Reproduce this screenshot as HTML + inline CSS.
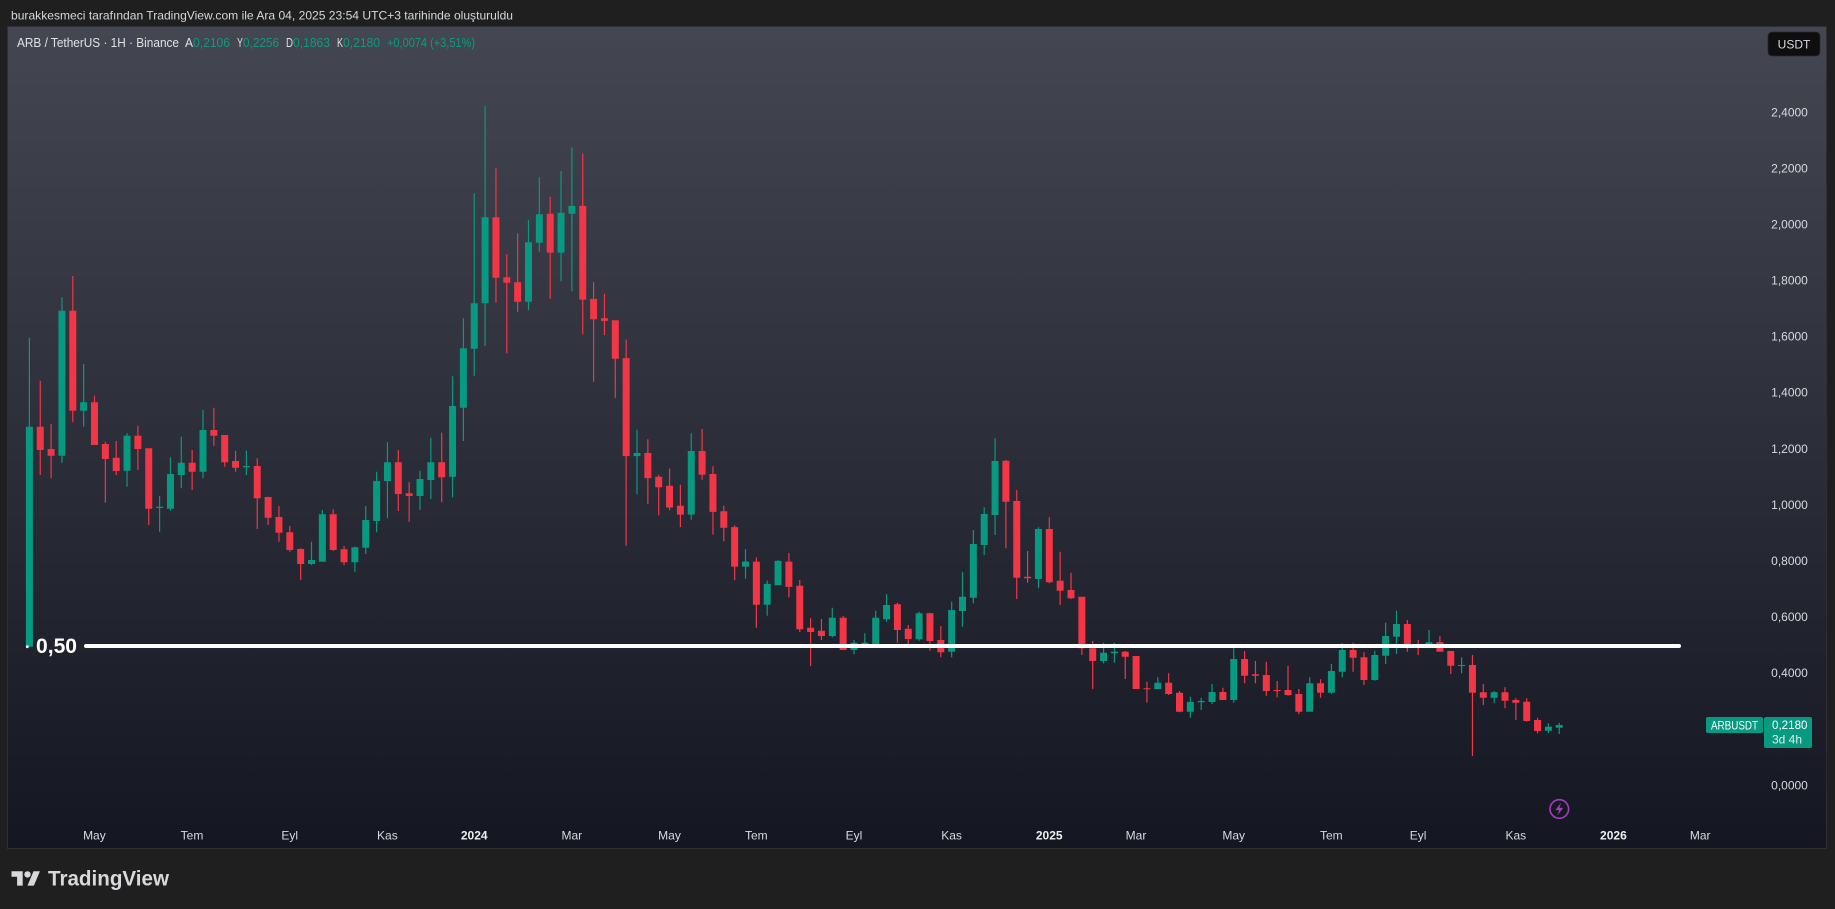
<!DOCTYPE html>
<html><head><meta charset="utf-8">
<style>
html,body{margin:0;padding:0;background:#1f1f1f;width:1835px;height:909px;overflow:hidden}
svg{display:block}
.g{fill:#089981}.r{fill:#f23645}
text{font-family:"Liberation Sans","DejaVu Sans",sans-serif}
.ax{font-size:12px;fill:#d8d9dd;text-anchor:middle}
.yr{font-size:12px;fill:#eeeeee;font-weight:bold;text-anchor:middle}
.pl{font-size:12px;fill:#d8d9dd;text-anchor:middle}
</style></head>
<body>
<svg width="1835" height="909" viewBox="0 0 1835 909" xmlns="http://www.w3.org/2000/svg">
<defs>
<linearGradient id="bg" x1="0" y1="27" x2="0" y2="848" gradientUnits="userSpaceOnUse">
<stop offset="0" stop-color="#444651"/>
<stop offset="1" stop-color="#141722"/>
</linearGradient>
</defs>
<rect x="0" y="0" width="1835" height="909" fill="#1f1f1f"/>
<rect x="7.5" y="26.5" width="1819" height="822" fill="none" stroke="#303030" stroke-width="1"/>
<rect x="8" y="27" width="1818" height="821" fill="url(#bg)"/>

<text x="11" y="19.3" font-size="12" fill="#d6d7db" textLength="502" lengthAdjust="spacingAndGlyphs">burakkesmeci tarafından TradingView.com ile Ara 04, 2025 23:54 UTC+3 tarihinde oluşturuldu</text>

<g font-size="13">
<text x="17" y="47" fill="#e0e1e5" textLength="162" lengthAdjust="spacingAndGlyphs">ARB / TetherUS · 1H · Binance</text>
<text x="185" y="47" fill="#e0e1e5" textLength="8" lengthAdjust="spacingAndGlyphs">A</text>
<text x="193" y="47" fill="#0f9a80" textLength="37" lengthAdjust="spacingAndGlyphs">0,2106</text>
<text x="237" y="47" fill="#e0e1e5" textLength="6" lengthAdjust="spacingAndGlyphs">Y</text>
<text x="243" y="47" fill="#0f9a80" textLength="36" lengthAdjust="spacingAndGlyphs">0,2256</text>
<text x="286" y="47" fill="#e0e1e5" textLength="7" lengthAdjust="spacingAndGlyphs">D</text>
<text x="293" y="47" fill="#0f9a80" textLength="37" lengthAdjust="spacingAndGlyphs">0,1863</text>
<text x="337" y="47" fill="#e0e1e5" textLength="6" lengthAdjust="spacingAndGlyphs">K</text>
<text x="343" y="47" fill="#0f9a80" textLength="37" lengthAdjust="spacingAndGlyphs">0,2180</text>
<text x="387" y="47" fill="#0f9a80" textLength="88" lengthAdjust="spacingAndGlyphs">+0,0074 (+3,51%)</text>
</g>

<!-- price axis labels -->
<g>
<text class="pl" x="1789.5" y="116.6">2,4000</text>
<text class="pl" x="1789.5" y="172.7">2,2000</text>
<text class="pl" x="1789.5" y="228.5">2,0000</text>
<text class="pl" x="1789.5" y="284.6">1,8000</text>
<text class="pl" x="1789.5" y="340.7">1,6000</text>
<text class="pl" x="1789.5" y="396.7">1,4000</text>
<text class="pl" x="1789.5" y="452.8">1,2000</text>
<text class="pl" x="1789.5" y="508.9">1,0000</text>
<text class="pl" x="1789.5" y="565">0,8000</text>
<text class="pl" x="1789.5" y="621.1">0,6000</text>
<text class="pl" x="1789.5" y="677.1">0,4000</text>
<text class="pl" x="1789.5" y="733.2">0,2000</text>
<text class="pl" x="1789.5" y="789.3">0,0000</text>
</g>

<!-- time axis labels -->
<g>
<text class="ax" x="94.4" y="839.3">May</text>
<text class="ax" x="192" y="839.3">Tem</text>
<text class="ax" x="289.7" y="839.3">Eyl</text>
<text class="ax" x="387.4" y="839.3">Kas</text>
<text class="yr" x="474.2" y="839.3">2024</text>
<text class="ax" x="571.8" y="839.3">Mar</text>
<text class="ax" x="669.5" y="839.3">May</text>
<text class="ax" x="756.3" y="839.3">Tem</text>
<text class="ax" x="853.9" y="839.3">Eyl</text>
<text class="ax" x="951.6" y="839.3">Kas</text>
<text class="yr" x="1049.2" y="839.3">2025</text>
<text class="ax" x="1136" y="839.3">Mar</text>
<text class="ax" x="1233.7" y="839.3">May</text>
<text class="ax" x="1331.3" y="839.3">Tem</text>
<text class="ax" x="1418.1" y="839.3">Eyl</text>
<text class="ax" x="1515.8" y="839.3">Kas</text>
<text class="yr" x="1613.4" y="839.3">2026</text>
<text class="ax" x="1700.2" y="839.3">Mar</text>
</g>

<!-- candles -->
<g>
<path class="g" transform="translate(29.4)" d="M-.6 337.7H.6V426.7H3.5V646.7H.6V647H-.6V646.7H-3.5V426.7H-.6Z"/>
<path class="r" transform="translate(40.25)" d="M-.6 380.7H.6V426.7H3.5V450H.6V475H-.6V450H-3.5V426.7H-.6Z"/>
<path class="r" transform="translate(51.1)" d="M-.6 424H.6V449H3.5V455.7H.6V478.3H-.6V455.7H-3.5V449H-.6Z"/>
<path class="g" transform="translate(61.95)" d="M-.6 297.3H.6V310.7H3.5V455.7H.6V462.7H-.6V455.7H-3.5V310.7H-.6Z"/>
<path class="r" transform="translate(72.8)" d="M-.6 276H.6V310.7H3.5V410.7H.6V422.3H-.6V410.7H-3.5V310.7H-.6Z"/>
<path class="g" transform="translate(83.65)" d="M-.6 364H.6V402.3H3.5V410.7H.6V426.7H-.6V410.7H-3.5V402.3H-.6Z"/>
<path class="r" transform="translate(94.5)" d="M-.6 395.7H.6V402.3H3.5V445H.6V445H-.6V445H-3.5V402.3H-.6Z"/>
<path class="r" transform="translate(105.35)" d="M-.6 441.7H.6V444H3.5V459H.6V502.7H-.6V459H-3.5V444H-.6Z"/>
<path class="r" transform="translate(116.2)" d="M-.6 441H.6V457.7H3.5V471H.6V475H-.6V471H-3.5V457.7H-.6Z"/>
<path class="g" transform="translate(127.05)" d="M-.6 433.3H.6V435.7H3.5V470.7H.6V486.7H-.6V470.7H-3.5V435.7H-.6Z"/>
<path class="r" transform="translate(137.9)" d="M-.6 425.7H.6V435.7H3.5V449H.6V470H-.6V449H-3.5V435.7H-.6Z"/>
<path class="r" transform="translate(148.75)" d="M-.6 448.3H.6V448.3H3.5V508.7H.6V525H-.6V508.7H-3.5V448.3H-.6Z"/>
<path class="g" transform="translate(159.6)" d="M-.6 496H.6V506.7H3.5V508H.6V531.7H-.6V508H-3.5V506.7H-.6Z"/>
<path class="g" transform="translate(170.45)" d="M-.6 457.3H.6V474H3.5V508.7H.6V510.7H-.6V508.7H-3.5V474H-.6Z"/>
<path class="g" transform="translate(181.3)" d="M-.6 436.7H.6V462.7H3.5V475H.6V488.3H-.6V475H-3.5V462.7H-.6Z"/>
<path class="r" transform="translate(192.15)" d="M-.6 450H.6V462.7H3.5V471.7H.6V490H-.6V471.7H-3.5V462.7H-.6Z"/>
<path class="g" transform="translate(203)" d="M-.6 410H.6V430H3.5V471.7H.6V478.3H-.6V471.7H-3.5V430H-.6Z"/>
<path class="r" transform="translate(213.85)" d="M-.6 407.7H.6V430H3.5V435.7H.6V445.7H-.6V435.7H-3.5V430H-.6Z"/>
<path class="r" transform="translate(224.7)" d="M-.6 435H.6V435H3.5V462.3H.6V466.7H-.6V462.3H-3.5V435H-.6Z"/>
<path class="r" transform="translate(235.55)" d="M-.6 450.7H.6V461H3.5V467.7H.6V471.7H-.6V467.7H-3.5V461H-.6Z"/>
<path class="g" transform="translate(246.4)" d="M-.6 450.7H.6V466H3.5V467.3H.6V475H-.6V467.3H-3.5V466H-.6Z"/>
<path class="r" transform="translate(257.25)" d="M-.6 458.3H.6V466H3.5V498.3H.6V529H-.6V498.3H-3.5V466H-.6Z"/>
<path class="r" transform="translate(268.1)" d="M-.6 496.7H.6V497H3.5V517.7H.6V525H-.6V517.7H-3.5V497H-.6Z"/>
<path class="r" transform="translate(278.95)" d="M-.6 506H.6V517H3.5V532.7H.6V541.7H-.6V532.7H-3.5V517H-.6Z"/>
<path class="r" transform="translate(289.8)" d="M-.6 526H.6V532.3H3.5V550H.6V551.7H-.6V550H-3.5V532.3H-.6Z"/>
<path class="r" transform="translate(300.65)" d="M-.6 548.3H.6V549H3.5V564H.6V580H-.6V564H-3.5V549H-.6Z"/>
<path class="g" transform="translate(311.5)" d="M-.6 541.7H.6V560H3.5V564H.6V565H-.6V564H-3.5V560H-.6Z"/>
<path class="g" transform="translate(322.35)" d="M-.6 510H.6V514.3H3.5V561.7H.6V561.7H-.6V561.7H-3.5V514.3H-.6Z"/>
<path class="r" transform="translate(333.2)" d="M-.6 509.3H.6V514.3H3.5V550H.6V550.7H-.6V550H-3.5V514.3H-.6Z"/>
<path class="r" transform="translate(344.05)" d="M-.6 546H.6V549.3H3.5V562.3H.6V565H-.6V562.3H-3.5V549.3H-.6Z"/>
<path class="g" transform="translate(354.9)" d="M-.6 546.7H.6V547.3H3.5V562.3H.6V571.7H-.6V562.3H-3.5V547.3H-.6Z"/>
<path class="g" transform="translate(365.75)" d="M-.6 506H.6V520H3.5V547.7H.6V554H-.6V547.7H-3.5V520H-.6Z"/>
<path class="g" transform="translate(376.6)" d="M-.6 471.7H.6V481H3.5V521H.6V532.3H-.6V521H-3.5V481H-.6Z"/>
<path class="g" transform="translate(387.45)" d="M-.6 442.3H.6V462.3H3.5V481H.6V518.3H-.6V481H-3.5V462.3H-.6Z"/>
<path class="r" transform="translate(398.3)" d="M-.6 450H.6V462.3H3.5V494H.6V511H-.6V494H-3.5V462.3H-.6Z"/>
<path class="r" transform="translate(409.15)" d="M-.6 482.3H.6V493.3H3.5V496H.6V521.7H-.6V496H-3.5V493.3H-.6Z"/>
<path class="g" transform="translate(420)" d="M-.6 470.7H.6V479H3.5V496H.6V510H-.6V496H-3.5V479H-.6Z"/>
<path class="g" transform="translate(430.85)" d="M-.6 437.7H.6V462.3H3.5V480H.6V499H-.6V480H-3.5V462.3H-.6Z"/>
<path class="r" transform="translate(441.7)" d="M-.6 432.7H.6V462.3H3.5V477.3H.6V502.3H-.6V477.3H-3.5V462.3H-.6Z"/>
<path class="g" transform="translate(452.55)" d="M-.6 376H.6V406H3.5V476.7H.6V497.3H-.6V476.7H-3.5V406H-.6Z"/>
<path class="g" transform="translate(463.4)" d="M-.6 318.3H.6V348.3H3.5V407.7H.6V441H-.6V407.7H-3.5V348.3H-.6Z"/>
<path class="g" transform="translate(474.25)" d="M-.6 193.3H.6V303.3H3.5V348.7H.6V376H-.6V348.7H-3.5V303.3H-.6Z"/>
<path class="g" transform="translate(485.1)" d="M-.6 106H.6V217.3H3.5V303.3H.6V346H-.6V303.3H-3.5V217.3H-.6Z"/>
<path class="r" transform="translate(495.95)" d="M-.6 168.3H.6V217.3H3.5V277.7H.6V302.7H-.6V277.7H-3.5V217.3H-.6Z"/>
<path class="r" transform="translate(506.8)" d="M-.6 254H.6V277.3H3.5V282.7H.6V353.3H-.6V282.7H-3.5V277.3H-.6Z"/>
<path class="r" transform="translate(517.65)" d="M-.6 233.3H.6V282.3H3.5V301.7H.6V311.7H-.6V301.7H-3.5V282.3H-.6Z"/>
<path class="g" transform="translate(528.5)" d="M-.6 220H.6V242.3H3.5V301.7H.6V310H-.6V301.7H-3.5V242.3H-.6Z"/>
<path class="g" transform="translate(539.35)" d="M-.6 177.3H.6V214.3H3.5V242.7H.6V251.7H-.6V242.7H-3.5V214.3H-.6Z"/>
<path class="r" transform="translate(550.2)" d="M-.6 196.8H.6V213.7H3.5V252.6H.6V298.9H-.6V252.6H-3.5V213.7H-.6Z"/>
<path class="g" transform="translate(561.05)" d="M-.6 171.1H.6V212.7H3.5V252.6H.6V281.3H-.6V252.6H-3.5V212.7H-.6Z"/>
<path class="g" transform="translate(571.9)" d="M-.6 147.4H.6V205.9H3.5V213.7H.6V291.1H-.6V213.7H-3.5V205.9H-.6Z"/>
<path class="r" transform="translate(582.75)" d="M-.6 153.5H.6V205.9H3.5V299.6H.6V334.4H-.6V299.6H-3.5V205.9H-.6Z"/>
<path class="r" transform="translate(593.6)" d="M-.6 282H.6V298.9H3.5V319.2H.6V381.7H-.6V319.2H-3.5V298.9H-.6Z"/>
<path class="r" transform="translate(604.45)" d="M-.6 293.8H.6V318.2H3.5V320.9H.6V335.1H-.6V320.9H-3.5V318.2H-.6Z"/>
<path class="r" transform="translate(615.3)" d="M-.6 320.2H.6V320.2H3.5V358.7H.6V398H-.6V358.7H-3.5V320.2H-.6Z"/>
<path class="r" transform="translate(626.15)" d="M-.6 339.5H.6V358.1H3.5V456.1H.6V545.7H-.6V456.1H-3.5V358.1H-.6Z"/>
<path class="g" transform="translate(637)" d="M-.6 429.7H.6V453H3.5V456.1H.6V494.3H-.6V456.1H-3.5V453H-.6Z"/>
<path class="r" transform="translate(647.85)" d="M-.6 439.2H.6V453H3.5V478.1H.6V504.1H-.6V478.1H-3.5V453H-.6Z"/>
<path class="r" transform="translate(658.7)" d="M-.6 474.7H.6V476.7H3.5V487.2H.6V515.3H-.6V487.2H-3.5V476.7H-.6Z"/>
<path class="r" transform="translate(669.55)" d="M-.6 468.6H.6V485.8H3.5V507.5H.6V510.2H-.6V507.5H-3.5V485.8H-.6Z"/>
<path class="r" transform="translate(680.4)" d="M-.6 484.8H.6V505.8H3.5V514.6H.6V527.1H-.6V514.6H-3.5V505.8H-.6Z"/>
<path class="g" transform="translate(691.25)" d="M-.6 433.1H.6V451H3.5V514.6H.6V519.7H-.6V514.6H-3.5V451H-.6Z"/>
<path class="r" transform="translate(702.1)" d="M-.6 429H.6V451H3.5V474.7H.6V479.8H-.6V474.7H-3.5V451H-.6Z"/>
<path class="r" transform="translate(712.95)" d="M-.6 466.2H.6V474H3.5V511.9H.6V534.5H-.6V511.9H-3.5V474H-.6Z"/>
<path class="r" transform="translate(723.8)" d="M-.6 505.8H.6V511.2H3.5V527.8H.6V541.3H-.6V527.8H-3.5V511.2H-.6Z"/>
<path class="r" transform="translate(734.65)" d="M-.6 525.4H.6V527.1H3.5V566.6H.6V580.2H-.6V566.6H-3.5V527.1H-.6Z"/>
<path class="g" transform="translate(745.5)" d="M-.6 549.1H.6V561.6H3.5V566.6H.6V578.8H-.6V566.6H-3.5V561.6H-.6Z"/>
<path class="r" transform="translate(756.35)" d="M-.6 557.5H.6V561.6H3.5V604.8H.6V627.8H-.6V604.8H-3.5V561.6H-.6Z"/>
<path class="g" transform="translate(767.2)" d="M-.6 580.5H.6V583.9H3.5V604.8H.6V615.7H-.6V604.8H-3.5V583.9H-.6Z"/>
<path class="g" transform="translate(778.05)" d="M-.6 560.2H.6V560.9H3.5V585.2H.6V585.2H-.6V585.2H-3.5V560.9H-.6Z"/>
<path class="r" transform="translate(788.9)" d="M-.6 553.1H.6V561.6H3.5V586.9H.6V597.4H-.6V586.9H-3.5V561.6H-.6Z"/>
<path class="r" transform="translate(799.75)" d="M-.6 580H.6V585.7H3.5V629.3H.6V632H-.6V629.3H-3.5V585.7H-.6Z"/>
<path class="r" transform="translate(810.6)" d="M-.6 618.3H.6V627.7H3.5V632H.6V666H-.6V632H-3.5V627.7H-.6Z"/>
<path class="r" transform="translate(821.45)" d="M-.6 619H.6V630.7H3.5V636H.6V640H-.6V636H-3.5V630.7H-.6Z"/>
<path class="g" transform="translate(832.3)" d="M-.6 607.7H.6V617.7H3.5V636H.6V637.3H-.6V636H-3.5V617.7H-.6Z"/>
<path class="r" transform="translate(843.15)" d="M-.6 616H.6V617.7H3.5V650H.6V650H-.6V650H-3.5V617.7H-.6Z"/>
<path class="g" transform="translate(854)" d="M-.6 640H.6V642.7H3.5V650H.6V654.3H-.6V650H-3.5V642.7H-.6Z"/>
<path class="g" transform="translate(864.85)" d="M-.6 633.3H.6V642.7H3.5V644H.6V645H-.6V644H-3.5V642.7H-.6Z"/>
<path class="g" transform="translate(875.7)" d="M-.6 610.7H.6V617.7H3.5V644H.6V646H-.6V644H-3.5V617.7H-.6Z"/>
<path class="g" transform="translate(886.55)" d="M-.6 594.3H.6V605H3.5V619.3H.6V621.7H-.6V619.3H-3.5V605H-.6Z"/>
<path class="r" transform="translate(897.4)" d="M-.6 602.7H.6V604.3H3.5V630H.6V642.7H-.6V630H-3.5V604.3H-.6Z"/>
<path class="r" transform="translate(908.25)" d="M-.6 625H.6V628.7H3.5V639H.6V644H-.6V639H-3.5V628.7H-.6Z"/>
<path class="g" transform="translate(919.1)" d="M-.6 611.7H.6V613.3H3.5V639.3H.6V640.7H-.6V639.3H-3.5V613.3H-.6Z"/>
<path class="r" transform="translate(929.95)" d="M-.6 612.7H.6V613.3H3.5V641H.6V650.7H-.6V641H-3.5V613.3H-.6Z"/>
<path class="r" transform="translate(940.8)" d="M-.6 626H.6V640H3.5V652.3H.6V657.3H-.6V652.3H-3.5V640H-.6Z"/>
<path class="g" transform="translate(951.65)" d="M-.6 601.7H.6V610H3.5V651.7H.6V657.3H-.6V651.7H-3.5V610H-.6Z"/>
<path class="g" transform="translate(962.5)" d="M-.6 572.3H.6V596.7H3.5V611H.6V626.7H-.6V611H-3.5V596.7H-.6Z"/>
<path class="g" transform="translate(973.35)" d="M-.6 530H.6V544H3.5V597.7H.6V603.3H-.6V597.7H-3.5V544H-.6Z"/>
<path class="g" transform="translate(984.2)" d="M-.6 507.3H.6V514H3.5V545H.6V555H-.6V545H-3.5V514H-.6Z"/>
<path class="g" transform="translate(995.05)" d="M-.6 438.3H.6V461H3.5V515H.6V535H-.6V515H-3.5V461H-.6Z"/>
<path class="r" transform="translate(1005.9)" d="M-.6 460H.6V460.7H3.5V501.7H.6V548.3H-.6V501.7H-3.5V460.7H-.6Z"/>
<path class="r" transform="translate(1016.75)" d="M-.6 490H.6V501H3.5V577.7H.6V599H-.6V577.7H-3.5V501H-.6Z"/>
<path class="r" transform="translate(1027.6)" d="M-.6 551H.6V576.7H3.5V578.3H.6V582.7H-.6V578.3H-3.5V576.7H-.6Z"/>
<path class="g" transform="translate(1038.45)" d="M-.6 527.3H.6V529H3.5V579H.6V588.3H-.6V579H-3.5V529H-.6Z"/>
<path class="r" transform="translate(1049.3)" d="M-.6 517.3H.6V529H3.5V582.3H.6V583.3H-.6V582.3H-3.5V529H-.6Z"/>
<path class="r" transform="translate(1060.15)" d="M-.6 551.7H.6V580.7H3.5V590.7H.6V605H-.6V590.7H-3.5V580.7H-.6Z"/>
<path class="r" transform="translate(1071)" d="M-.6 572.7H.6V590H3.5V598.3H.6V599H-.6V598.3H-3.5V590H-.6Z"/>
<path class="r" transform="translate(1081.85)" d="M-.6 596.7H.6V596.7H3.5V648.3H.6V655H-.6V648.3H-3.5V596.7H-.6Z"/>
<path class="r" transform="translate(1092.7)" d="M-.6 641H.6V648.3H3.5V661H.6V689H-.6V661H-3.5V648.3H-.6Z"/>
<path class="g" transform="translate(1103.55)" d="M-.6 642.7H.6V652.7H3.5V661H.6V663.3H-.6V661H-3.5V652.7H-.6Z"/>
<path class="g" transform="translate(1114.4)" d="M-.6 642.7H.6V651.7H3.5V653.3H.6V662.7H-.6V653.3H-3.5V651.7H-.6Z"/>
<path class="r" transform="translate(1125.25)" d="M-.6 651H.6V651.7H3.5V656.7H.6V679H-.6V656.7H-3.5V651.7H-.6Z"/>
<path class="r" transform="translate(1136.1)" d="M-.6 656H.6V656H3.5V689H.6V689H-.6V689H-3.5V656H-.6Z"/>
<path class="r" transform="translate(1146.95)" d="M-.6 681.7H.6V688.3H3.5V689.3H.6V702.7H-.6V689.3H-3.5V688.3H-.6Z"/>
<path class="g" transform="translate(1157.8)" d="M-.6 677.3H.6V682.7H3.5V689H.6V689.3H-.6V689H-3.5V682.7H-.6Z"/>
<path class="r" transform="translate(1168.65)" d="M-.6 673.3H.6V682.7H3.5V694H.6V695H-.6V694H-3.5V682.7H-.6Z"/>
<path class="r" transform="translate(1179.5)" d="M-.6 691H.6V692.7H3.5V711.7H.6V712.3H-.6V711.7H-3.5V692.7H-.6Z"/>
<path class="g" transform="translate(1190.35)" d="M-.6 696.7H.6V702H3.5V711.7H.6V717.7H-.6V711.7H-3.5V702H-.6Z"/>
<path class="g" transform="translate(1201.2)" d="M-.6 697.7H.6V701H3.5V702.3H.6V710H-.6V702.3H-3.5V701H-.6Z"/>
<path class="g" transform="translate(1212.05)" d="M-.6 684H.6V692H3.5V702H.6V704H-.6V702H-3.5V692H-.6Z"/>
<path class="r" transform="translate(1222.9)" d="M-.6 687.7H.6V692H3.5V700H.6V700H-.6V700H-3.5V692H-.6Z"/>
<path class="g" transform="translate(1233.75)" d="M-.6 644H.6V659H3.5V700H.6V702.7H-.6V700H-3.5V659H-.6Z"/>
<path class="r" transform="translate(1244.6)" d="M-.6 651H.6V659H3.5V675.7H.6V683.3H-.6V675.7H-3.5V659H-.6Z"/>
<path class="r" transform="translate(1255.45)" d="M-.6 661H.6V674.3H3.5V675.7H.6V683.3H-.6V675.7H-3.5V674.3H-.6Z"/>
<path class="r" transform="translate(1266.3)" d="M-.6 661.7H.6V675H3.5V691H.6V695.7H-.6V691H-3.5V675H-.6Z"/>
<path class="r" transform="translate(1277.15)" d="M-.6 681H.6V690H3.5V691H.6V697.3H-.6V691H-3.5V690H-.6Z"/>
<path class="r" transform="translate(1288)" d="M-.6 665.7H.6V690H3.5V695H.6V695.7H-.6V695H-3.5V690H-.6Z"/>
<path class="r" transform="translate(1298.85)" d="M-.6 689H.6V694H3.5V711.7H.6V714.3H-.6V711.7H-3.5V694H-.6Z"/>
<path class="g" transform="translate(1309.7)" d="M-.6 677.3H.6V683.3H3.5V711.7H.6V711.7H-.6V711.7H-3.5V683.3H-.6Z"/>
<path class="r" transform="translate(1320.55)" d="M-.6 679.3H.6V683.3H3.5V692.7H.6V697.7H-.6V692.7H-3.5V683.3H-.6Z"/>
<path class="g" transform="translate(1331.4)" d="M-.6 664H.6V671H3.5V692.7H.6V694H-.6V692.7H-3.5V671H-.6Z"/>
<path class="g" transform="translate(1342.25)" d="M-.6 643.3H.6V650H3.5V671.7H.6V677.3H-.6V671.7H-3.5V650H-.6Z"/>
<path class="r" transform="translate(1353.1)" d="M-.6 642.7H.6V650H3.5V657.7H.6V671.7H-.6V657.7H-3.5V650H-.6Z"/>
<path class="r" transform="translate(1363.95)" d="M-.6 652.3H.6V657.3H3.5V680H.6V685H-.6V680H-3.5V657.3H-.6Z"/>
<path class="g" transform="translate(1374.8)" d="M-.6 650.7H.6V655H3.5V680H.6V680.7H-.6V680H-3.5V655H-.6Z"/>
<path class="g" transform="translate(1385.65)" d="M-.6 622.7H.6V636H3.5V655.7H.6V664H-.6V655.7H-3.5V636H-.6Z"/>
<path class="g" transform="translate(1396.5)" d="M-.6 610.7H.6V624H3.5V636.7H.6V654H-.6V636.7H-3.5V624H-.6Z"/>
<path class="r" transform="translate(1407.35)" d="M-.6 620H.6V624H3.5V647.7H.6V651.7H-.6V647.7H-3.5V624H-.6Z"/>
<path class="r" transform="translate(1418.2)" d="M-.6 640H.6V646.7H3.5V647.7H.6V655H-.6V647.7H-3.5V646.7H-.6Z"/>
<path class="g" transform="translate(1429.05)" d="M-.6 630H.6V642.3H3.5V647.7H.6V648.3H-.6V647.7H-3.5V642.3H-.6Z"/>
<path class="r" transform="translate(1439.9)" d="M-.6 636H.6V642.3H3.5V651.7H.6V651.7H-.6V651.7H-3.5V642.3H-.6Z"/>
<path class="r" transform="translate(1450.75)" d="M-.6 651H.6V651H3.5V665.7H.6V674H-.6V665.7H-3.5V651H-.6Z"/>
<path class="g" transform="translate(1461.6)" d="M-.6 657.3H.6V665H3.5V666H.6V673.3H-.6V666H-3.5V665H-.6Z"/>
<path class="r" transform="translate(1472.45)" d="M-.6 655H.6V665H3.5V692.7H.6V756H-.6V692.7H-3.5V665H-.6Z"/>
<path class="r" transform="translate(1483.3)" d="M-.6 684H.6V692.3H3.5V697.7H.6V705H-.6V697.7H-3.5V692.3H-.6Z"/>
<path class="g" transform="translate(1494.15)" d="M-.6 691H.6V692.3H3.5V697.7H.6V703.3H-.6V697.7H-3.5V692.3H-.6Z"/>
<path class="r" transform="translate(1505)" d="M-.6 687.3H.6V692.3H3.5V700.7H.6V708.3H-.6V700.7H-3.5V692.3H-.6Z"/>
<path class="r" transform="translate(1515.85)" d="M-.6 698.3H.6V700H3.5V702.7H.6V720H-.6V702.7H-3.5V700H-.6Z"/>
<path class="r" transform="translate(1526.7)" d="M-.6 698.3H.6V701.7H3.5V721H.6V721.7H-.6V721H-3.5V701.7H-.6Z"/>
<path class="r" transform="translate(1537.55)" d="M-.6 717.7H.6V720H3.5V731H.6V733.3H-.6V731H-3.5V720H-.6Z"/>
<path class="g" transform="translate(1548.4)" d="M-.6 723.3H.6V726.7H3.5V730.7H.6V733.3H-.6V730.7H-3.5V726.7H-.6Z"/>
<path class="g" transform="translate(1559.25)" d="M-.6 722.7H.6V725H3.5V727.7H.6V734H-.6V727.7H-3.5V725H-.6Z"/>
</g>

<!-- 0.50 horizontal line -->
<line x1="86" y1="646" x2="1679" y2="646" stroke="#ffffff" stroke-width="4" stroke-linecap="round"/>
<circle cx="27.3" cy="646.7" r="1.4" fill="#ffffff"/>
<text x="36" y="653.2" font-size="21" font-weight="bold" fill="#ffffff" textLength="41" lengthAdjust="spacingAndGlyphs">0,50</text>

<!-- USDT box -->
<rect x="1768" y="32" width="52" height="24" rx="4" fill="#0e0e0f" stroke="#2a2a2e" stroke-width="0.8"/>
<text x="1794" y="48.3" font-size="12" fill="#d8d9dd" text-anchor="middle">USDT</text>

<!-- price labels -->
<rect x="1706" y="717" width="57" height="16" rx="2" fill="#089981"/>
<text x="1734.5" y="729.3" font-size="12" fill="#ffffff" text-anchor="middle" textLength="47" lengthAdjust="spacingAndGlyphs">ARBUSDT</text>
<rect x="1764" y="717" width="48" height="31" rx="2" fill="#089981"/>
<text x="1772" y="728.8" font-size="12" fill="#ffffff" textLength="35.5" lengthAdjust="spacingAndGlyphs">0,2180</text>
<text x="1772" y="743.3" font-size="12" fill="#d9f2ec" textLength="30" lengthAdjust="spacingAndGlyphs">3d 4h</text>

<!-- lightning icon -->
<circle cx="1559.3" cy="809" r="9.3" fill="none" stroke="#a23ec0" stroke-width="1.6"/>
<path d="M1561.2 802.6L1555.4 810.1H1559.2L1557.4 815.4L1563.2 807.9H1559.4Z" fill="#a23ec0"/>

<!-- TradingView logo -->
<g fill="#d8d9dd" transform="translate(11.5,868) scale(0.8)">
<path d="M14 22H7V11H0V4h14v18z"/>
<circle cx="20" cy="8" r="4"/>
<path d="M28 22h-8l7.5-18h8L28 22z"/>
</g>
<text x="48" y="885.5" font-size="21" font-weight="bold" fill="#d8d9dd" textLength="121" lengthAdjust="spacingAndGlyphs">TradingView</text>
</svg>
</body></html>
